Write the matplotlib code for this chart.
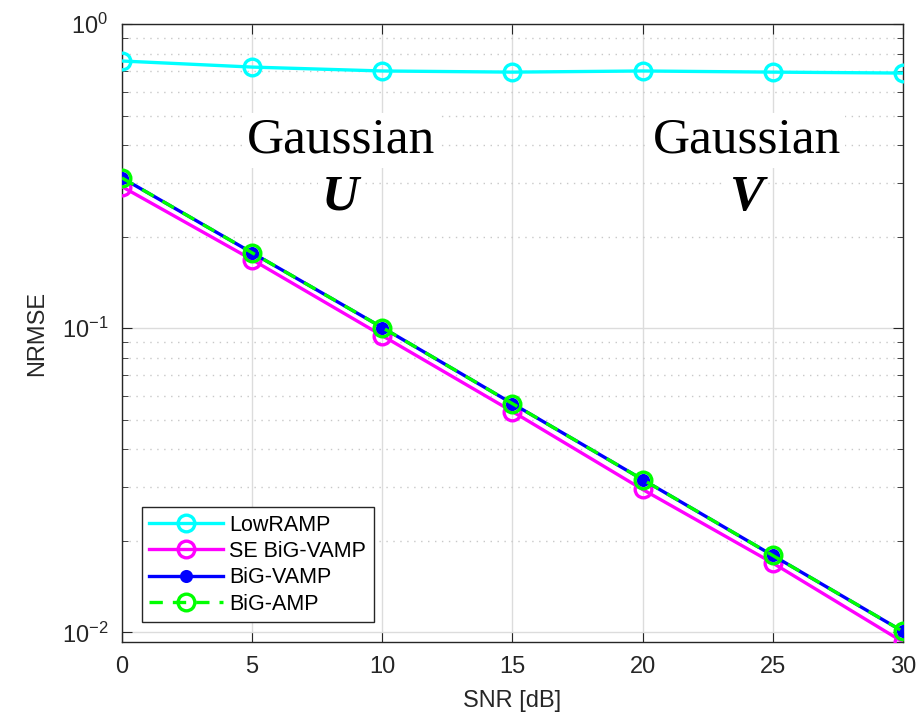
import numpy as np
import matplotlib
matplotlib.use("Agg")
import matplotlib.pyplot as plt
from matplotlib.ticker import LogLocator, NullFormatter

# ---------------------------------------------------------------------------
# Data
# ---------------------------------------------------------------------------
snr        = [0, 5, 10, 15, 20, 25, 30]
lowramp    = [0.756, 0.722, 0.701, 0.695, 0.701, 0.695, 0.690]
se_bigvamp = [0.292, 0.168, 0.0945, 0.0532, 0.0295, 0.0169, 0.0093]
bigvamp    = [0.312, 0.177, 0.1005, 0.0565, 0.0318, 0.0179, 0.01007]
bigamp     = [0.312, 0.177, 0.1005, 0.0565, 0.0318, 0.0179, 0.01007]

plt.rcParams["font.family"] = ["Liberation Sans", "DejaVu Sans"]

fig = plt.figure(figsize=(9.17, 7.16), dpi=100)
ax = fig.add_axes([0.133, 0.1034, 0.8517, 0.863])

ax.semilogy(snr, lowramp, "-o", color="cyan", lw=2.4, ms=12, mfc="none", mew=2.4,
            label="LowRAMP", zorder=4)
ax.semilogy(snr, se_bigvamp, "-o", color="magenta", lw=2.4, ms=12, mfc="none", mew=2.4,
            label="SE BiG-VAMP", zorder=4)
ax.semilogy(snr, bigvamp, "-o", color="blue", lw=2.4, ms=7, mfc="blue", mew=2.4,
            label="BiG-VAMP", zorder=5)
ax.semilogy(snr, bigamp, "--o", color="#00ff00", lw=2.4, ms=12, mfc="none", mew=2.4,
            dashes=(4, 3), label="BiG-AMP", zorder=6)

ax.set_xlim(0, 30)
ax.set_ylim(0.0093, 1.0)
ax.set_xticks(snr)
ax.yaxis.set_major_locator(LogLocator(base=10, numticks=5))
ax.yaxis.set_minor_locator(LogLocator(base=10, subs=np.arange(2, 10), numticks=20))
ax.yaxis.set_minor_formatter(NullFormatter())

ax.grid(True, which="major", axis="x", color="#dcdcdc", lw=1)
ax.grid(True, which="major", axis="y", color="#dcdcdc", lw=1)
ax.grid(True, which="minor", axis="y", color="#c8c8c8", lw=1, ls=(0, (1, 4)))

ax.tick_params(which="both", direction="in", top=True, right=True, labelsize=17,
               color="#262626", labelcolor="#262626", pad=10)
ax.tick_params(which="major", length=7)
ax.tick_params(which="minor", length=4)
for s in ax.spines.values():
    s.set_color("#262626")
    s.set_linewidth(1.0)

ax.set_xlabel("SNR [dB]", fontsize=17, color="#262626", labelpad=9)
ax.set_ylabel("NRMSE", fontsize=17, color="#262626", labelpad=10)

# annotations with white background (as in the original)
serif = ["Liberation Serif", "DejaVu Serif"]
box = dict(facecolor="white", edgecolor="none", pad=3)
ax.text(8.4, 0.377, "Gaussian", family=serif, fontsize=37, ha="center",
        va="baseline", bbox=box, zorder=3)
ax.text(8.4, 0.245, "U", family=serif, fontsize=37, weight="bold", style="italic",
        ha="center", va="baseline", bbox=box, zorder=3)
ax.text(24.0, 0.377, "Gaussian", family=serif, fontsize=37, ha="center",
        va="baseline", bbox=box, zorder=3)
ax.text(24.0, 0.245, "V", family=serif, fontsize=37, weight="bold", style="italic",
        ha="center", va="baseline", bbox=box, zorder=3)

leg = ax.legend(loc="lower left", bbox_to_anchor=(0.0256, 0.032), borderaxespad=0,
                fontsize=15.5, fancybox=False, framealpha=1, edgecolor="#262626",
                handlelength=3.4, handletextpad=0.3, borderpad=0.35, labelspacing=0.25)
leg.get_frame().set_linewidth(1.0)
leg.set_zorder(10)

fig.savefig("out.png", dpi=100)
